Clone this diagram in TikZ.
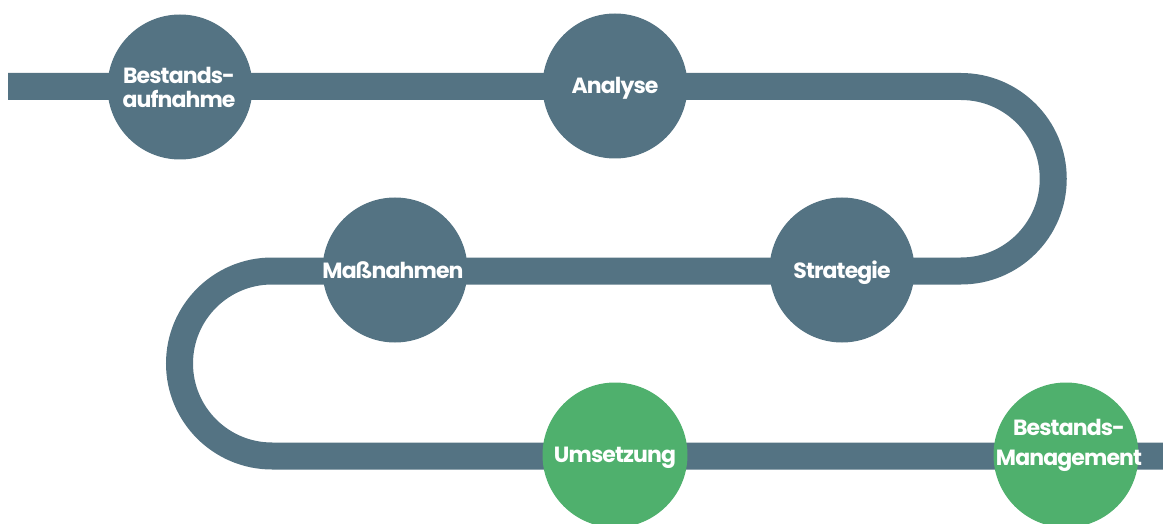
\documentclass[tikz,border=0pt]{standalone}
\usepackage{fontspec}
\newfontfamily\stagefont{Poppins}[LetterSpace=-4]
\definecolor{slate}{RGB}{84,115,131}
\definecolor{leafgreen}{RGB}{79,176,109}
\tikzset{
  track/.style={draw=slate, line width=27pt},
  stage/.style={circle, fill=slate, minimum size=145pt, inner sep=0pt},
  donestage/.style={stage, fill=leafgreen},
  stagetext/.style={anchor=base, text=white, inner sep=0pt, font=\stagefont\bfseries\fontsize{22}{26}\selectfont},
}
\begin{document}
\begin{tikzpicture}[x=1pt,y=1pt]
\useasboundingbox (0,0) rectangle (1163,-524);
\coordinate (start) at (8,-86.5);
\coordinate (finish) at (1163,-456);
\draw[track] (start) -- (961,-86.5) arc[start angle=90,end angle=-90,radius=92.25]
  -- (272,-271) arc[start angle=90,end angle=270,radius=92.5] -- (finish);
\node[stage] (s1) at (180,-87) {};
\node[stage] (s2) at (615,-86) {};
\node[stage] (s3) at (842,-270) {};
\node[stage] (s4) at (395,-270) {};
\node[donestage] (s5) at (615,-455) {};
\node[donestage] (s6) at (1066,-455) {};
\node[stagetext] (t1a) at (179,-84) {Bestands-};
\node[stagetext] (t1b) at (179,-108) {aufnahme};
\node[stagetext] (t2) at (615,-94) {Analyse};
\node[stagetext] (t3) at (842,-278) {Strategie};
\node[stagetext] (t4) at (393,-278) {Maßnahmen};
\node[stagetext] (t5) at (615,-462) {Umsetzung};
\node[stagetext] (t6a) at (1069,-435) {Bestands-};
\node[stagetext] (t6b) at (1069,-465) {Management};
\end{tikzpicture}
\end{document}
